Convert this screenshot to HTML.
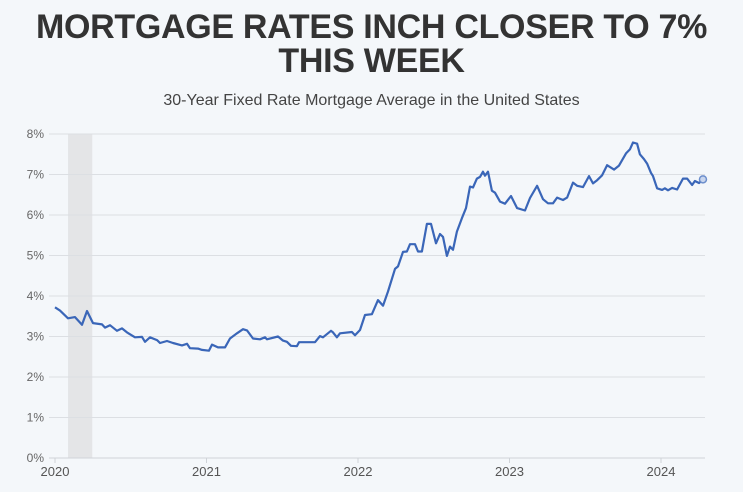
<!DOCTYPE html>
<html><head><meta charset="utf-8">
<style>
html,body{margin:0;padding:0;background:#f4f7fa;}
body{width:743px;height:492px;overflow:hidden;font-family:"Liberation Sans",sans-serif;position:relative;}
#title{position:absolute;left:0;width:743px;top:10px;text-align:center;font-weight:bold;font-size:34px;line-height:34px;color:#333;letter-spacing:-0.3px;}
#subtitle{position:absolute;left:0;width:743px;top:92px;text-align:center;font-size:16px;color:#444;}
svg{position:absolute;left:0;top:0;}
</style></head><body>
<div id="title">MORTGAGE RATES INCH CLOSER TO 7%<br>THIS WEEK</div>
<div id="subtitle">30-Year Fixed Rate Mortgage Average in the United States</div>
<svg id="chart" width="743" height="492"></svg>
<script>
const dates=[2020.000,2020.033,2020.086,2020.132,2020.178,2020.211,2020.251,2020.310,2020.330,2020.363,2020.409,2020.442,2020.475,2020.528,2020.574,2020.594,2020.627,2020.673,2020.693,2020.739,2020.779,2020.838,2020.871,2020.891,2020.944,2020.970,2021.016,2021.036,2021.076,2021.122,2021.155,2021.201,2021.241,2021.267,2021.307,2021.353,2021.386,2021.399,2021.472,2021.505,2021.531,2021.558,2021.597,2021.611,2021.716,2021.749,2021.769,2021.822,2021.835,2021.861,2021.881,2021.960,2021.980,2022.013,2022.046,2022.092,2022.132,2022.165,2022.198,2022.244,2022.264,2022.297,2022.323,2022.343,2022.376,2022.396,2022.422,2022.455,2022.482,2022.515,2022.541,2022.561,2022.587,2022.607,2022.627,2022.653,2022.686,2022.713,2022.739,2022.759,2022.785,2022.805,2022.825,2022.838,2022.858,2022.884,2022.904,2022.937,2022.970,2023.010,2023.050,2023.102,2023.135,2023.182,2023.221,2023.254,2023.287,2023.314,2023.353,2023.380,2023.419,2023.446,2023.485,2023.525,2023.551,2023.578,2023.611,2023.644,2023.690,2023.723,2023.769,2023.795,2023.815,2023.842,2023.861,2023.888,2023.908,2023.934,2023.947,2023.974,2024.007,2024.026,2024.046,2024.073,2024.106,2024.145,2024.172,2024.205,2024.224,2024.251,2024.277];
const rates=[3.72,3.64,3.45,3.48,3.29,3.63,3.33,3.30,3.22,3.28,3.14,3.20,3.10,2.98,2.99,2.87,2.98,2.91,2.84,2.89,2.84,2.78,2.82,2.71,2.70,2.67,2.65,2.80,2.73,2.73,2.95,3.08,3.18,3.15,2.95,2.93,2.98,2.93,3.00,2.90,2.87,2.77,2.76,2.86,2.86,3.01,2.98,3.14,3.10,2.98,3.08,3.11,3.03,3.16,3.53,3.55,3.90,3.76,4.11,4.67,4.73,5.09,5.10,5.28,5.28,5.10,5.10,5.78,5.78,5.30,5.53,5.46,4.99,5.22,5.14,5.59,5.92,6.17,6.70,6.68,6.90,6.94,7.07,6.97,7.07,6.60,6.55,6.33,6.28,6.47,6.17,6.11,6.42,6.72,6.39,6.29,6.29,6.43,6.37,6.43,6.80,6.72,6.69,6.96,6.78,6.86,6.98,7.23,7.12,7.22,7.52,7.62,7.79,7.76,7.50,7.38,7.27,7.04,6.96,6.66,6.62,6.66,6.61,6.67,6.63,6.90,6.90,6.74,6.84,6.79,6.88];
const yTicks=[0,1,2,3,4,5,6,7,8];
const xTicks=[2020,2021,2022,2023,2024];
const recession=[2020.086,2020.246];

const NS="http://www.w3.org/2000/svg";
const svg=document.getElementById('chart');
const x=d=>55+(d-2020)*151.5;
const y=v=>458-v*40.5;
function mk(t,a){const e=document.createElementNS(NS,t);for(const k in a)e.setAttribute(k,a[k]);svg.appendChild(e);return e;}
let r=mk('rect',{x:x(recession[0]),y:y(8),width:x(recession[1])-x(recession[0]),height:y(0)-y(8),fill:'#e4e5e7'});


yTicks.forEach(v=>{
  const l=mk('line',{x1:49,x2:705,y1:y(v),y2:y(v),stroke:v===0?'#cfd3d8':'#dcdfe3','stroke-width':1});
  
  
  const t=mk('text',{x:44,y:y(v)+4,'text-anchor':'end','font-size':12,fill:'#666','font-family':'Liberation Sans, sans-serif'});
  t.textContent=v+'%';
  
  
});
xTicks.forEach(d=>{
  const l=mk('line',{x1:x(d),x2:x(d),y1:y(0),y2:y(0)+5,stroke:'#cfd3d8'});
  
  
  const t=mk('text',{x:x(d),y:476,'text-anchor':'middle','font-size':13,fill:'#555','font-family':'Liberation Sans, sans-serif'});
  t.textContent=d;
  
  
});
let dstr=dates.map((d,i)=>(i?'L':'M')+x(d).toFixed(1)+','+y(rates[i]).toFixed(1)).join('');
const p=mk('path',{d:dstr,fill:'none',stroke:'#3a66b8','stroke-width':2.2,'stroke-linejoin':'round'});


const n=dates.length-1;
const c=mk('circle',{cx:x(dates[n]),cy:y(rates[n]),r:3.5,fill:'#c9d6ee',stroke:'#6d8fcc','stroke-width':1.5});


</script>
</body></html>
